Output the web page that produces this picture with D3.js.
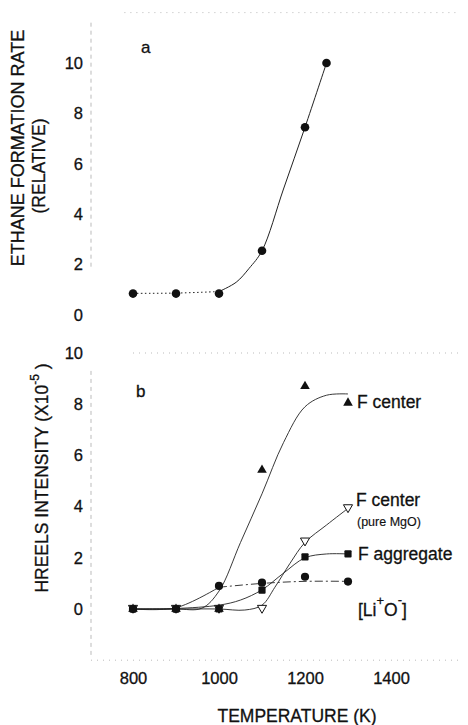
<!DOCTYPE html>
<html>
<head>
<meta charset="utf-8">
<style>
body { margin: 0; background: #fff; }
text { font-family: "Liberation Sans", Arial, sans-serif; fill: #111; stroke: #111; stroke-width: 0.3; }
</style>
</head>
<body></body>
<script src="https://d3js.org/d3.v7.min.js"></script>
<script>

// panel a: ethane formation rate
var ethaneT = [800, 900, 1000, 1100, 1200, 1250];
var ethaneRate = [0.85, 0.85, 0.85, 2.55, 7.45, 10.0];
var ethaneFitT = [800, 900, 1000, 1040, 1070, 1100, 1150, 1200, 1250];
var ethaneFitV = [0.86, 0.87, 0.93, 1.3, 1.85, 2.55, 5.0, 7.45, 10.0];

// panel b: HREELS intensity
var temps = [800, 900, 1000, 1100, 1200, 1300];
var fCenter = [0, 0, 0, 5.43, 8.7, 8.05];
var pureMgO = [0, 0, 0, 0, 2.63, 3.93];
var fAggregate = [0, 0, 0, 0.74, 2.04, 2.15];
var liO = [0, 0, 0.9, 1.03, 1.26, 1.07];

var fCenterFitT = [800, 900, 960, 1000, 1050, 1100, 1150, 1200, 1250, 1300];
var fCenterFitV = [0, 0, 0.03, 0.7, 2.6, 4.5, 6.5, 7.9, 8.35, 8.4];
var pureFitT = [800, 900, 1000, 1060, 1100, 1130, 1165, 1200, 1250, 1300];
var pureFitV = [0, 0, 0, -0.04, 0.15, 0.85, 1.78, 2.6, 3.28, 3.93];
var aggFitT = [800, 900, 1000, 1050, 1100, 1150, 1200, 1250, 1300];
var aggFitV = [0, 0.02, 0.15, 0.35, 0.75, 1.4, 2.0, 2.15, 2.15];
var liFitT = [800, 900, 1000, 1100, 1200, 1300];
var liFitV = [0, 0.05, 0.85, 1.0, 1.08, 1.08];

var yTicks = [0, 2, 4, 6, 8, 10];
var xTicks = [800, 1000, 1200, 1400];

var W = 468, H = 725;
var svg = d3.select("body").append("svg")
	.attr("width", W)
	.attr("height", H);

var x = d3.scaleLinear().domain([800, 1400]).range([133, 391]);
var yA = d3.scaleLinear().domain([0, 10]).range([315, 63]);
var yB = d3.scaleLinear().domain([0, 10]).range([609, 353]);

function pairs(t, v) { return t.map((d, i) => [d, v[i]]); }

// faint scanned frame lines
var faint = svg.append("g")
	.attr("stroke", "#bbb")
	.attr("stroke-width", 1)
	.attr("stroke-dasharray", "1,5")
	.attr("fill", "none");
faint.append("line").attr("x1", 91).attr("x2", 91).attr("y1", yA(11.6)).attr("y2", yA(1.8))
	.attr("stroke-dasharray", "4,4");
faint.append("line").attr("x1", x(780)).attr("x2", x(1560)).attr("y1", yA(12)).attr("y2", yA(12));
faint.append("line").attr("x1", 91).attr("x2", 91).attr("y1", yB(9.3)).attr("y2", yB(-1.8))
	.attr("stroke-dasharray", "4,4");
faint.append("line").attr("x1", x(800)).attr("x2", x(1560)).attr("y1", yB(10)).attr("y2", yB(10));
faint.append("line").attr("x1", 91).attr("x2", x(1560)).attr("y1", yB(-2)).attr("y2", yB(-2));

// axes (labels only)
function leftAxis(scale) {
	var g = svg.append("g")
		.attr("transform", "translate(91,0)")
		.call(d3.axisLeft(scale).tickValues(yTicks).tickSize(0).tickPadding(8).tickFormat(d3.format("d")));
	g.select(".domain").remove();
	g.selectAll("text").attr("font-size", 16.5).attr("font-family", null);
}
leftAxis(yA);
leftAxis(yB);

var xa = svg.append("g")
	.attr("transform", "translate(0," + yB(-2) + ")")
	.call(d3.axisBottom(x).tickValues(xTicks).tickSize(0).tickPadding(12).tickFormat(d3.format("d")));
xa.select(".domain").remove();
xa.selectAll("text").attr("font-size", 16.5).attr("font-family", null);

// titles
svg.append("text")
	.attr("transform", "translate(23.5,148) rotate(-90)")
	.attr("text-anchor", "middle")
	.attr("font-size", 18)
	.text("ETHANE FORMATION RATE");
svg.append("text")
	.attr("transform", "translate(45,166) rotate(-90)")
	.attr("text-anchor", "middle")
	.attr("font-size", 17.5)
	.text("(RELATIVE)");

var tb = svg.append("text")
	.attr("transform", "translate(48,478) rotate(-90)")
	.attr("text-anchor", "middle")
	.attr("font-size", 17.5);
tb.append("tspan").text("HREELS INTENSITY (X10");
tb.append("tspan").attr("dy", -9).attr("font-size", 12).text("-5");
tb.append("tspan").attr("dy", 9).text(" )");

svg.append("text")
	.attr("x", 297).attr("y", 722)
	.attr("text-anchor", "middle")
	.attr("font-size", 17.5)
	.text("TEMPERATURE (K)");

svg.append("text").attr("x", 141).attr("y", 53).attr("font-size", 17).text("a");
svg.append("text").attr("x", 136).attr("y", 397).attr("font-size", 17).text("b");

// curves
var lineA = d3.line().x(d => x(d[0])).y(d => yA(d[1])).curve(d3.curveCatmullRom.alpha(0.5));
var lineB = d3.line().x(d => x(d[0])).y(d => yB(d[1])).curve(d3.curveCatmullRom.alpha(0.5));

var ethFit = pairs(ethaneFitT, ethaneFitV);
svg.append("path").datum(ethFit.filter(d => d[0] <= 1000))
	.attr("d", lineA).attr("fill", "none").attr("stroke", "#222")
	.attr("stroke-width", 1).attr("stroke-dasharray", "1.5,2.5");
svg.append("path").datum(ethFit.filter(d => d[0] >= 1000))
	.attr("d", lineA).attr("fill", "none").attr("stroke", "#222").attr("stroke-width", 1);

function curveB(t, v, dash) {
	svg.append("path").datum(pairs(t, v))
		.attr("d", lineB).attr("fill", "none").attr("stroke", "#222")
		.attr("stroke-width", 0.9)
		.attr("stroke-dasharray", dash || null);
}
curveB(fCenterFitT, fCenterFitV);
curveB(pureFitT, pureFitV);
curveB(aggFitT, aggFitV);
var liFit = pairs(liFitT, liFitV);
svg.append("path").datum(liFit.filter(d => d[0] <= 1000))
	.attr("d", lineB).attr("fill", "none").attr("stroke", "#222").attr("stroke-width", 0.9);
svg.append("path").datum(liFit.filter(d => d[0] >= 1000))
	.attr("d", lineB).attr("fill", "none").attr("stroke", "#222").attr("stroke-width", 0.9)
	.attr("stroke-dasharray", "8,3,2,3");

// markers
svg.append("g").selectAll("circle")
	.data(pairs(ethaneT, ethaneRate))
	.join("circle")
	.attr("cx", d => x(d[0])).attr("cy", d => yA(d[1]))
	.attr("r", 4.3).attr("fill", "#111");

var triUp = d3.symbol().type(d3.symbolTriangle).size(40);
var triDown = d3.symbol().type(d3.symbolTriangle).size(36);

// open triangles first so the filled marks cover the overlapping ones
svg.append("g").selectAll("path")
	.data(pairs(temps, pureMgO))
	.join("path")
	.attr("d", triDown)
	.attr("transform", d => "translate(" + x(d[0]) + "," + (yB(d[1]) - 1) + ") rotate(180)")
	.attr("fill", "#fff").attr("stroke", "#111").attr("stroke-width", 1);

svg.append("g").selectAll("path")
	.data(pairs(temps, fCenter))
	.join("path")
	.attr("d", triUp)
	.attr("transform", d => "translate(" + x(d[0]) + "," + yB(d[1]) + ")")
	.attr("fill", "#111");

svg.append("g").selectAll("rect")
	.data(pairs(temps, fAggregate))
	.join("rect")
	.attr("x", d => x(d[0]) - 3.6).attr("y", d => yB(d[1]) - 3.6)
	.attr("width", 7.2).attr("height", 7.2).attr("rx", 1)
	.attr("fill", "#111");

svg.append("g").selectAll("circle")
	.data(pairs(temps, liO).filter(d => d[1] > 0 || d[0] < 1000))
	.join("circle")
	.attr("cx", d => x(d[0])).attr("cy", d => yB(d[1]))
	.attr("r", 4.1).attr("fill", "#111");

// series labels
svg.append("text").attr("x", 357).attr("y", 408).attr("font-size", 17.5).text("F center");
svg.append("text").attr("x", 356).attr("y", 506).attr("font-size", 17.5).text("F center");
svg.append("text").attr("x", 357).attr("y", 526).attr("font-size", 12.5).style("stroke-width", 0.15).text("(pure MgO)");
svg.append("text").attr("x", 358).attr("y", 560).attr("font-size", 17.5).text("F aggregate");

var li = svg.append("text").attr("x", 358).attr("y", 616).attr("font-size", 17.5);
li.append("tspan").text("[Li");
li.append("tspan").attr("dy", -11).attr("font-size", 13).text("+");
li.append("tspan").attr("dy", 11).text("O");
li.append("tspan").attr("dy", -12).attr("font-size", 13).text("-");
li.append("tspan").attr("dy", 12).text("]");

</script>
</html>
